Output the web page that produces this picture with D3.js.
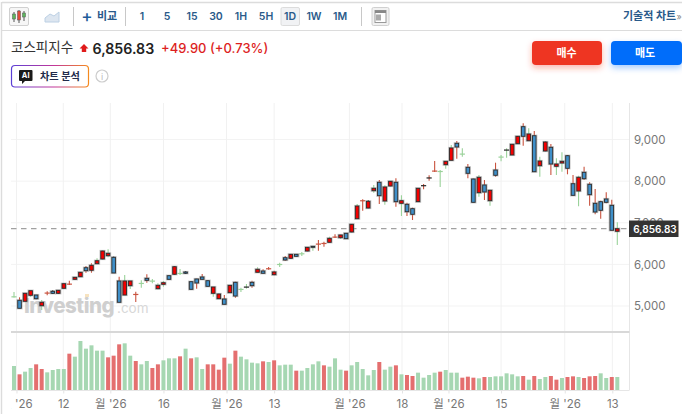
<!DOCTYPE html>
<html><head><meta charset="utf-8">
<script src="https://cdn.jsdelivr.net/npm/d3@7"></script>
<style>html,body{margin:0;padding:0;background:#fff}svg{display:block}text{font-family:Inter,"Noto Sans CJK KR",sans-serif}</style>
</head><body><svg id="c" width="682" height="414"></svg>
<script>
const openP=[5210,5137,5113,5257,5264,5007,5300,5353,5305,5425,5515,5641,5704,5920,5858,6016,6129,6208,6170,5601,5264,5488,5265,5530,5665,5588,5416,5521,5728,5762,5770,5817,5584,5649,5697,5608,5305,5175,5168,5320,5569,5386,5444,5569,5810,5841,5884,5752,5987,6160,6146,6242,6244,6321,6434,6477,6492,6530,6645,6641,6747,6778,7097,7518,7354,7770,7972,7523,7883,7972,7467,7443,7338,7506,7875,8060,8231,8221,8395,8500,8909,8639,8332,8051,7722,7907,7530,8267,8567,8736,8628,8899,9308,8971,9091,8370,8724,8813,8356,8435,8611,7938,7763,8212,7924,7467,7506,7571,7419,6795];
const highP=[5335,5209,5305,5368,5264,5144,5353,5384,5385,5536,5608,5695,5815,5961,6026,6146,6325,6362,6190,5704,5745,5601,5344,5617,5762,5649,5545,5601,5735,5950,5889,5841,5590,5655,5769,5615,5456,5295,5264,5505,5580,5440,5529,5608,5930,5882,5937,5848,6040,6201,6250,6250,6297,6415,6440,6586,6545,6665,6722,6712,6755,6970,7450,7563,7547,7907,8027,7900,8005,8068,7659,7482,7362,7835,7931,8140,8483,8267,8485,8868,8964,8789,8411,8060,8147,8027,7790,8443,8628,8789,8890,9085,9389,9269,9204,8587,8950,8892,8548,8692,8628,8147,8130,8347,7972,7811,7530,7731,7554,7011];
const lowP=[5205,4945,5113,5223,5165,4904,5257,5288,5295,5425,5505,5635,5700,5800,5800,6010,6125,6170,5793,5089,5264,5408,5096,5440,5560,5545,5401,5464,5635,5755,5745,5769,5401,5416,5635,5473,5223,5170,5041,5310,5199,5336,5416,5440,5805,5780,5872,5737,5937,6081,6140,6190,6201,6315,6329,6329,6425,6525,6634,6610,6610,6770,7090,7289,7350,7722,7450,7434,7875,7386,7162,7162,7066,7500,7804,8010,8219,7859,8298,8495,8539,8587,8068,7491,7626,7547,7410,8106,8476,8563,8625,8895,8851,8965,8226,8106,8720,8147,8147,8226,8164,7655,7395,8027,7410,7203,7097,7467,6819,6465];
const closeP=[5220,4945,5305,5368,5175,5089,5310,5305,5377,5536,5525,5689,5810,5848,5978,6088,6321,6266,5793,5089,5601,5601,5277,5542,5617,5598,5497,5560,5641,5944,5782,5786,5401,5553,5641,5473,5456,5288,5041,5497,5240,5398,5454,5488,5882,5786,5894,5817,5997,6105,6242,6194,6254,6410,6410,6487,6502,6626,6655,6706,6617,6963,7402,7528,7515,7828,7650,7859,7996,7506,7530,7265,7203,7828,7890,8076,8241,8231,8476,8796,8820,8649,8188,7491,8092,7739,7780,8140,8577,8746,8885,9077,9077,9132,8226,8483,8940,8411,8411,8476,8308,7659,8092,8058,7674,7258,7299,7491,6819,6857];
const wickTones="grrgkgrkkkrkkrrgkgkrggrgrgggkkgkkrrkgkrkrggrgrrrgrkkgkgrrgrgkkgrkgrgkrgrrkrrrgggrgrkgrgrggkkrgrgkrggrrgrrrrrrg";
const darkDoji=[42,74,75,89];
const volumes=[72,47,55,66,77,63,53,60,63,63,109,100,147,124,134,118,118,98,103,137,140,103,87,77,87,66,77,89,95,95,101,124,95,98,63,77,77,61,97,79,118,100,92,82,80,86,84,89,74,76,76,58,58,66,77,86,74,70,95,61,58,74,84,63,44,60,84,61,70,74,47,45,42,52,37,45,52,55,60,52,52,37,40,37,35,39,39,41,41,50,47,41,42,31,42,33,39,42,31,36,39,41,39,36,41,42,50,36,39,39];
const volumeTones="grggrrggggrggggggrrrggrggrrgggrgrggrrrrgrggggrgrgggrggggrgggrgggggrggrgrrggggrgggrrrgrggggggrgrggrrgrrgrrrggrg";
const priceTicks=[5000,6000,7000,8000,9000];
const timeTickAt=[0.45,8.9,17.4,27,38.4,47,60.6,70.1,78.5,88,99.5,108.1];
const timeTickLabels=["월 '26","12","월 '26","16","월 '26","13","월 '26","18","월 '26","15","월 '26","13"];
const lastPrice=6856.83;
const intervals=["1","5","15","30","1H","5H","1D","1W","1M"];

const svg=d3.select("#c");
const x=d3.scaleLinear().domain([0,109]).range([14,617.3]);
const y=d3.scaleLinear().domain([5000,9000]).range([306,139.5]);
const yV=d3.scaleLinear().domain([0,150]).range([390,340]);
const tone={r:"#c9533f",g:"#9ad29a",k:"#333"};
const L=11,R=629.5,idx=d3.range(openP.length);
const T=(s,px,py,o={})=>svg.append("text").attr("x",px).attr("y",py).attr("fill",o.c||"#333").attr("font-size",o.s||12).attr("font-weight",o.w||400).attr("text-anchor",o.a||"start").attr("dominant-baseline","central").text(s);
const rule=(a,b,c,d,col,w=1)=>svg.append("line").attr("x1",a).attr("y1",b).attr("x2",c).attr("y2",d).attr("stroke",col).attr("stroke-width",w);

// defs
const defs=svg.append("defs");
const grad=defs.append("linearGradient").attr("id","ai").attr("x1",0).attr("x2",1).attr("y1",0).attr("y2",0);
grad.append("stop").attr("offset",0).attr("stop-color","#5b3fd6");grad.append("stop").attr("offset",.55).attr("stop-color","#c2369a");grad.append("stop").attr("offset",1).attr("stop-color","#f58a1f");
defs.append("clipPath").attr("id","cx").append("rect").attr("x",L).attr("y",-2).attr("width",670).attr("height",26);
const sh=(id,col)=>{const f=defs.append("filter").attr("id",id).attr("x","-30%").attr("y","-50%").attr("width","160%").attr("height","220%");f.append("feDropShadow").attr("dx",0).attr("dy",3).attr("stdDeviation",3).attr("flood-color",col).attr("flood-opacity",.35);};
sh("sr","#ee3524");sh("sb","#006dfa");

// frame
rule(2,2.5,682,2.5,"#dcdcdc",1.4);rule(2,30.5,682,30.5,"#dcdcdc",1.2);rule(1.5,2,1.5,414,"#dcdcdc",1.4);
// toolbar
svg.append("rect").attr("x",9.5).attr("y",7.5).attr("width",19).attr("height",18).attr("rx",1.5).attr("fill","#f6f6f6").attr("stroke","#d0d0d0");
[[14,"#5cb85c",12,22,14,19],[19,"#e04a3a",10,23,11,20],[24,"#5cb85c",11,21,13,17]].forEach(d=>{rule(d[0],d[2],d[0],d[3],"#555");svg.append("rect").attr("x",d[0]-1.5).attr("y",d[4]).attr("width",3).attr("height",d[5]-d[4]).attr("fill",d[1]).attr("stroke","#555").attr("stroke-width",.5);});
svg.append("path").attr("d","M45 22V18L50 14L54 16L59 12V22Z").attr("fill","#dde6f0").attr("stroke","#bcd0e4");
[73.5,125.5,361.5].forEach(v=>rule(v,7,v,26,"#c8c8c8",1));
T("+",87,15.5,{c:"#1f5c99",s:17,w:500,a:"middle"});
T("비교",97,16,{c:"#2a5a8a",s:11,w:700});
const ix=[142,167,192,216,241,266,290,314,340];
svg.append("rect").attr("x",281).attr("y",7.5).attr("width",18.5).attr("height",18).attr("rx",1.5).attr("fill","#f1f2f4").attr("stroke","#dcdcdc");
intervals.forEach((s,i)=>T(s,ix[i],16.5,{c:"#2a5a8a",s:10.5,w:600,a:"middle"}));
svg.append("rect").attr("x",372).attr("y",7.5).attr("width",17).attr("height",18).attr("rx",1.5).attr("fill","#f1f1f1").attr("stroke","#d0d0d0");
svg.append("rect").attr("x",375).attr("y",10.5).attr("width",11).attr("height",12).attr("fill","#fff").attr("stroke","#999");
svg.append("rect").attr("x",375).attr("y",10.5).attr("width",11).attr("height",2.5).attr("fill","#888");
svg.append("rect").attr("x",376).attr("y",14.5).attr("width",5).attr("height",6).attr("fill","#aaa");
T("기술적 차트",623,16,{c:"#2a5a8a",s:11,w:700});
T("»",676.5,16,{c:"#888",s:9});
// title
T("코스피지수",11,47,{c:"#333",s:13.5,w:400});
svg.append("path").attr("d","M84 44L88.5 48.5H86.2V52H81.8V48.5H79.5Z").attr("fill","#e01b1b");
T("6,856.83",92.5,48,{c:"#222",s:14.2,w:600});
T("+49.90",161,47.5,{c:"#dd1f1f",s:13,w:500});
T("(+0.73%)",210,47.5,{c:"#dd1f1f",s:13,w:500});
svg.append("rect").attr("x",11.5).attr("y",65.5).attr("width",77).attr("height",21.5).attr("rx",3.5).attr("fill","#fff").attr("stroke","url(#ai)").attr("stroke-width",1.2);
svg.append("path").attr("d","M20 70H31.5A1 1 0 0 1 32.5 71V80A1 1 0 0 1 31.5 81H25L22 84V81H20A1 1 0 0 1 19 80V71A1 1 0 0 1 20 70Z").attr("fill","#1a1a1a");
T("AI",25.7,75.5,{c:"#fff",s:7.5,w:700,a:"middle"});
T("차트 분석",40,75.5,{c:"#222b4a",s:10.2,w:700});
svg.append("circle").attr("cx",102).attr("cy",76).attr("r",6).attr("fill","none").attr("stroke","#ccc").attr("stroke-width",1.2);
T("i",102,76,{c:"#bbb",s:9,a:"middle"});
svg.append("rect").attr("x",532).attr("y",41).attr("width",70).attr("height",24).attr("rx",4).attr("fill","#ee3524").attr("filter","url(#sr)");
T("매수",566.5,53,{c:"#fff",s:11,w:700,a:"middle"});
svg.append("rect").attr("x",611).attr("y",41).attr("width",71).attr("height",24).attr("rx",4).attr("fill","#006dfa").attr("filter","url(#sb)");
T("매도",645,53,{c:"#fff",s:11,w:700,a:"middle"});

// grid
const grid=svg.append("g");
grid.selectAll(".gy").data(priceTicks).join("line").attr("class","gy").attr("x1",L).attr("x2",R).attr("y1",d=>y(d)).attr("y2",d=>y(d)).attr("stroke","#f3f3f3");
grid.selectAll(".gx").data(timeTickAt).join("line").attr("class","gx").attr("x1",d=>x(d)).attr("x2",d=>x(d)).attr("y1",103).attr("y2",390).attr("stroke","#f1f1f1");
rule(R,103,R,390,"#e6e6e6",1);
rule(L,332,R,332,"#d8d8d8",2);
rule(L,390.5,R,390.5,"#e6e6e6",1);

// watermark
svg.append("text").attr("x",24).attr("y",313).attr("font-size",20.5).attr("font-weight",800).attr("fill","#cfcfcf").attr("letter-spacing",-.5).text("Investing");
svg.append("text").attr("x",117).attr("y",313).attr("font-size",13.5).attr("fill","#d8d8d8").text(".com");
svg.append("rect").attr("x",85).attr("y",294).attr("width",4).attr("height",3).attr("fill","#f7e3c0");

// axes
const yAxis=d3.axisRight(y).tickValues(priceTicks).tickSize(0).tickPadding(4.5).tickFormat(d3.format(","));
const ya=svg.append("g").attr("transform",`translate(${R},0)`).call(yAxis);
ya.select(".domain").remove();
ya.selectAll("text").attr("font-size",11.5).attr("fill","#777").attr("font-family",'Inter,"Noto Sans CJK KR",sans-serif');
const xAxis=d3.axisBottom(x).tickValues(timeTickAt).tickSize(3).tickPadding(6).tickFormat((d,i)=>timeTickLabels[i]);
const xa=svg.append("g").attr("transform","translate(0,390.5)").attr("clip-path","url(#cx)").call(xAxis);
xa.select(".domain").remove();
xa.selectAll("line").attr("stroke","#e4e4e4");
xa.selectAll("text").attr("font-size",11.5).attr("fill","#777").attr("font-family",'Inter,"Noto Sans CJK KR",sans-serif');

// volume
svg.append("g").selectAll("rect").data(idx).join("rect")
 .attr("x",i=>x(i)-2).attr("width",4).attr("y",i=>yV(volumes[i])).attr("height",i=>yV(0)-yV(volumes[i]))
 .attr("fill",i=>volumeTones[i]==="r"?"#e46f6f":"#a6d7b2");

// last price line
rule(L,y(lastPrice),R,y(lastPrice),"#8a8a8a",1).attr("stroke-dasharray","5.5,4.5");

// candles
const cg=svg.append("g");
cg.selectAll(".w").data(idx).join("line").attr("class","w").attr("x1",i=>x(i)).attr("x2",i=>x(i)).attr("y1",i=>y(highP[i])).attr("y2",i=>y(lowP[i]))
 .attr("stroke",i=>tone[wickTones[i]]).attr("stroke-width",1.1);
const isDoji=i=>Math.abs(openP[i]-closeP[i])<=20;
const bodies=idx.filter(i=>!isDoji(i)),dojis=idx.filter(isDoji);
cg.selectAll(".d").data(dojis).join("line").attr("class","d").attr("x1",i=>x(i)-2.6).attr("x2",i=>x(i)+2.6).attr("y1",i=>y(closeP[i])).attr("y2",i=>y(closeP[i]))
 .attr("stroke",i=>darkDoji.includes(i)?"#222":tone[wickTones[i]]).attr("stroke-width",1.2);
const bTop=i=>y(Math.max(openP[i],closeP[i])),bBot=i=>y(Math.min(openP[i],closeP[i]));
cg.selectAll(".h").data(bodies).join("rect").attr("class","h").attr("x",i=>x(i)-2.6).attr("width",5.2).attr("y",i=>bTop(i)-.6).attr("height",i=>bBot(i)-bTop(i)+1.2)
 .attr("fill","none").attr("stroke","#999").attr("stroke-opacity",.55).attr("stroke-width",1);
cg.selectAll(".b").data(bodies).join("rect").attr("class","b").attr("x",i=>x(i)-1.8).attr("width",3.6).attr("y",i=>bTop(i)).attr("height",i=>bBot(i)-bTop(i))
 .attr("fill",i=>closeP[i]>openP[i]?"#f40000":"#3f8fc8").attr("stroke","#2a2a2a").attr("stroke-width",.9);

// price flag
svg.append("rect").attr("x",629).attr("y",y(lastPrice)-8.2).attr("width",49.5).attr("height",16.5).attr("fill","#333");
T(d3.format(",.2f")(lastPrice),655,y(lastPrice)+.2,{c:"#fff",s:10,w:600,a:"middle"});
</script></body></html>
